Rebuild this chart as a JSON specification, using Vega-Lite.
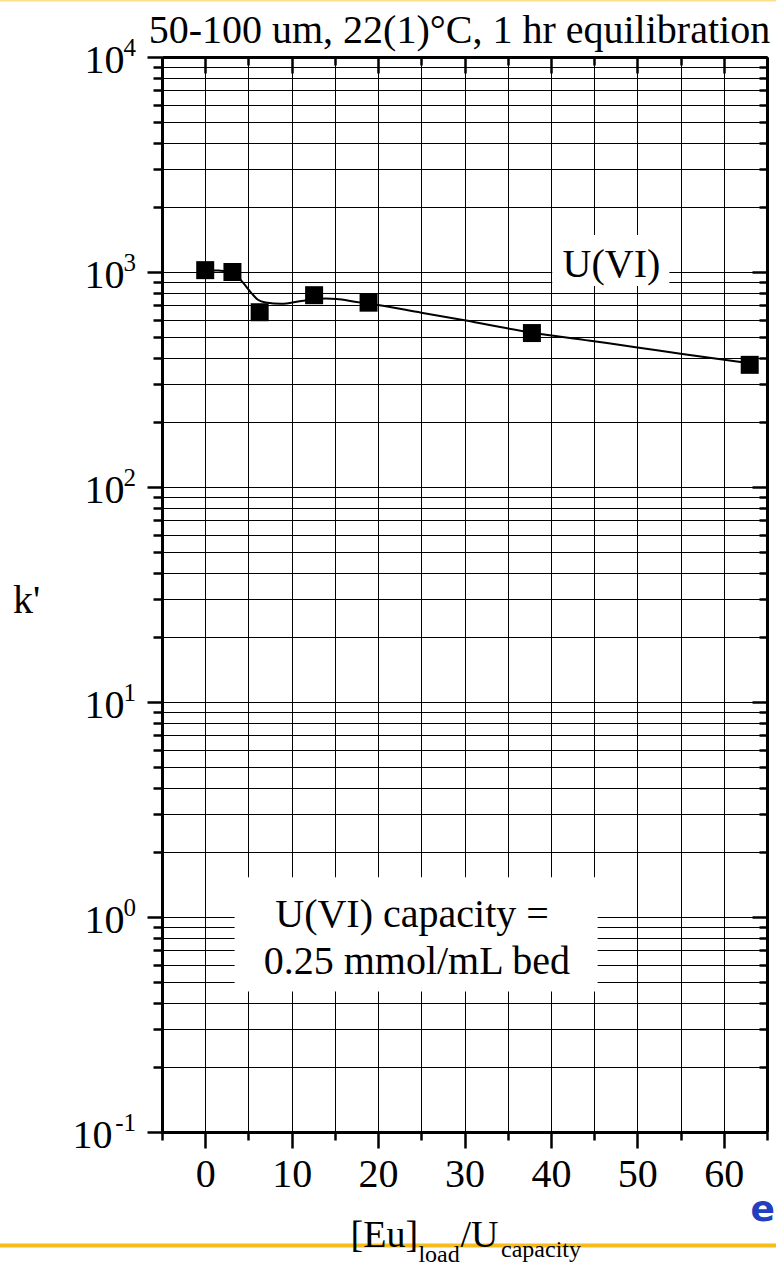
{
  "$schema": "https://vega.github.io/schema/vega-lite/v6.json",
  "width": 605,
  "height": 1075,
  "autosize": {"type": "none"},
  "padding": {"left": 162, "top": 57, "right": 9, "bottom": 137},
  "background": "white",
  "config": {"view": {"stroke": null}, "font": "Liberation Serif"},
  "datasets": {
    "points": [
      {"x": 0, "k": 1020},
      {"x": 3.15, "k": 1000},
      {"x": 6.3, "k": 650},
      {"x": 12.6, "k": 780},
      {"x": 18.9, "k": 720},
      {"x": 37.8, "k": 520},
      {"x": 63, "k": 370}
    ],
    "curve": [
      {"x": 0, "k": 1020},
      {"x": 1.5, "k": 1015},
      {"x": 3.15, "k": 1000},
      {"x": 4.3, "k": 899},
      {"x": 5.4, "k": 793},
      {"x": 6.1, "k": 743},
      {"x": 7.0, "k": 722},
      {"x": 8.8, "k": 712},
      {"x": 11.1, "k": 733},
      {"x": 13.9, "k": 752},
      {"x": 15.2, "k": 749},
      {"x": 17.5, "k": 725},
      {"x": 19, "k": 712},
      {"x": 25, "k": 647},
      {"x": 30, "k": 596},
      {"x": 37.9, "k": 522},
      {"x": 45, "k": 476},
      {"x": 50, "k": 446},
      {"x": 55, "k": 417},
      {"x": 63.2, "k": 375}
    ],
    "exponents": [
      {"v": 10000, "s": "4"},
      {"v": 1000, "s": "3"},
      {"v": 100, "s": "2"},
      {"v": 10, "s": "1"},
      {"v": 1, "s": "0"},
      {"v": 0.1, "s": "-1"}
    ],
    "one": [{}]
  },
  "resolve": {"axis": {"x": "independent", "y": "independent"}},
  "layer": [
    {
      "data": {"name": "one"},
      "mark": {"type": "rect", "color": "white"},
      "encoding": {
        "x": {"datum": 40.15, "type": "quantitative", "axis": null},
        "x2": {"datum": 53.7},
        "y": {"datum": 860, "type": "quantitative", "axis": null},
        "y2": {"datum": 1486}
      }
    },
    {
      "data": {"name": "one"},
      "mark": {"type": "rect", "color": "white"},
      "encoding": {
        "x": {"datum": 3.4, "type": "quantitative", "axis": null},
        "x2": {"datum": 45.4},
        "y": {"datum": 0.45, "type": "quantitative", "axis": null},
        "y2": {"datum": 1.53}
      }
    },
    {
      "data": {"name": "curve"},
      "mark": {"type": "line", "color": "black", "strokeWidth": 2, "interpolate": "monotone"},
      "encoding": {
        "x": {
          "field": "x", "type": "quantitative",
          "scale": {"domain": [-5, 65], "nice": false, "zero": false},
          "axis": {
            "orient": "top", "title": null, "labels": false, "grid": false,
            "values": [-5, 0, 5, 10, 15, 20, 25, 30, 35, 40, 45, 50, 55, 60, 65],
            "domain": true, "domainColor": "black", "domainWidth": 3,
            "tickColor": "black", "tickWidth": 2.5,
            "tickSize": {"condition": {"test": "datum.value % 10 === 0", "value": -16}, "value": -8}
          }
        },
        "y": {
          "field": "k", "type": "quantitative",
          "scale": {"type": "log", "domain": [0.1, 10000], "nice": false},
          "axis": {
            "orient": "right", "title": null, "labels": false, "grid": false,
            "values": [0.1,0.2,0.3,0.4,0.5,0.6,0.7,0.8,0.9,1,2,3,4,5,6,7,8,9,10,20,30,40,50,60,70,80,90,100,200,300,400,500,600,700,800,900,1000,2000,3000,4000,5000,6000,7000,8000,9000,10000],
            "domain": true, "domainColor": "black", "domainWidth": 3,
            "tickColor": "black", "tickWidth": 2.5,
            "tickSize": {"condition": {"test": "abs(log(datum.value)/LN10 - round(log(datum.value)/LN10)) < 1e-6", "value": -15}, "value": -8}
          }
        }
      }
    },
    {
      "data": {"name": "points"},
      "mark": {"type": "point", "shape": "square", "filled": true, "size": 324, "color": "black", "opacity": 1},
      "encoding": {
        "x": {
          "field": "x", "type": "quantitative",
          "scale": {"domain": [-5, 65], "nice": false, "zero": false},
          "axis": {
            "orient": "bottom", "title": null,
            "values": [-5, 0, 5, 10, 15, 20, 25, 30, 35, 40, 45, 50, 55, 60, 65],
            "labelExpr": "datum.value % 10 === 0 && datum.value <= 60 ? datum.label : ''",
            "format": "d",
            "labelFont": "Liberation Serif", "labelFontSize": 40, "labelColor": "black",
            "labelPadding": 6, "labelOverlap": false, "labelFlush": false, "labelBound": false,
            "grid": true, "gridColor": "black", "gridWidth": 1, "gridOpacity": 1,
            "domain": true, "domainColor": "black", "domainWidth": 3,
            "tickColor": "black", "tickWidth": 2.5,
            "tickSize": {"condition": {"test": "datum.value % 10 === 0", "value": 16}, "value": 8}
          }
        },
        "y": {
          "field": "k", "type": "quantitative",
          "scale": {"type": "log", "domain": [0.1, 10000], "nice": false},
          "axis": {
            "orient": "left",
            "title": "k'",
            "titleFont": "Liberation Serif", "titleFontSize": 40, "titleFontWeight": "normal", "titleColor": "black",
            "titleAngle": 0, "titleAlign": "center", "titleBaseline": "alphabetic",
            "titleX": -136, "titleY": 555,
            "values": [0.1,0.2,0.3,0.4,0.5,0.6,0.7,0.8,0.9,1,2,3,4,5,6,7,8,9,10,20,30,40,50,60,70,80,90,100,200,300,400,500,600,700,800,900,1000,2000,3000,4000,5000,6000,7000,8000,9000,10000],
            "labelExpr": "abs(log(datum.value)/LN10 - round(log(datum.value)/LN10)) < 1e-6 ? '10' : ''",
            "labelFont": "Liberation Serif", "labelFontSize": 40, "labelColor": "black",
            "labelBaseline": "alphabetic", "labelOffset": 15,
            "labelPadding": {"condition": {"test": "datum.value < 0.5", "value": 35}, "value": 23},
            "labelOverlap": false, "labelFlush": false, "labelBound": false,
            "grid": true, "gridColor": "black", "gridWidth": 1, "gridOpacity": 1,
            "domain": true, "domainColor": "black", "domainWidth": 3,
            "tickColor": "black", "tickWidth": 2.5,
            "tickSize": {"condition": {"test": "abs(log(datum.value)/LN10 - round(log(datum.value)/LN10)) < 1e-6", "value": 15}, "value": 9}
          }
        }
      }
    },
    {
      "data": {"name": "exponents"},
      "mark": {"type": "text", "font": "Liberation Serif", "fontSize": 25, "color": "black", "align": "right", "baseline": "alphabetic", "dx": -26, "dy": -1},
      "encoding": {
        "x": {"datum": -5, "type": "quantitative", "axis": null},
        "y": {"field": "v", "type": "quantitative", "axis": null},
        "text": {"field": "s"}
      }
    },
    {
      "data": {"name": "one"},
      "mark": {"type": "text", "text": "50-100 um, 22(1)\u00b0C, 1 hr equilibration", "font": "Liberation Serif", "fontSize": 40, "color": "black", "align": "center", "baseline": "alphabetic"},
      "encoding": {
        "x": {"datum": 29.41, "type": "quantitative", "axis": null},
        "y": {"datum": 11580, "type": "quantitative", "axis": null}
      }
    },
    {
      "data": {"name": "one"},
      "mark": {"type": "text", "text": "U(VI)", "font": "Liberation Serif", "fontSize": 40, "color": "black", "align": "center", "baseline": "alphabetic"},
      "encoding": {
        "x": {"datum": 47.0, "type": "quantitative", "axis": null},
        "y": {"datum": 951, "type": "quantitative", "axis": null}
      }
    },
    {
      "data": {"name": "one"},
      "mark": {"type": "text", "text": "U(VI) capacity =", "font": "Liberation Serif", "fontSize": 40, "color": "black", "align": "center", "baseline": "alphabetic"},
      "encoding": {
        "x": {"datum": 23.93, "type": "quantitative", "axis": null},
        "y": {"datum": 0.898, "type": "quantitative", "axis": null}
      }
    },
    {
      "data": {"name": "one"},
      "mark": {"type": "text", "text": "0.25 mmol/mL bed", "font": "Liberation Serif", "fontSize": 40, "color": "black", "align": "center", "baseline": "alphabetic"},
      "encoding": {
        "x": {"datum": 24.48, "type": "quantitative", "axis": null},
        "y": {"datum": 0.543, "type": "quantitative", "axis": null}
      }
    },
    {
      "data": {"name": "one"},
      "mark": {"type": "rule", "color": "#F6BC1C", "strokeWidth": 4},
      "encoding": {
        "x": {"datum": -24, "type": "quantitative", "axis": null},
        "x2": {"datum": 67},
        "y": {"datum": 0.02965, "type": "quantitative", "axis": null}
      }
    },
    {
      "data": {"name": "one"},
      "mark": {"type": "rule", "color": "#FBDF8C", "strokeWidth": 2},
      "encoding": {
        "x": {"datum": -24, "type": "quantitative", "axis": null},
        "x2": {"datum": 67},
        "y": {"datum": 18323, "type": "quantitative", "axis": null}
      }
    },
    {
      "data": {"name": "one"},
      "mark": {"type": "text", "text": "[Eu]", "font": "Liberation Serif", "fontSize": 38, "color": "black", "align": "left", "baseline": "alphabetic"},
      "encoding": {
        "x": {"datum": 16.82, "type": "quantitative", "axis": null},
        "y": {"datum": 0.02917, "type": "quantitative", "axis": null}
      }
    },
    {
      "data": {"name": "one"},
      "mark": {"type": "text", "text": "load", "font": "Liberation Serif", "fontSize": 24, "color": "black", "align": "left", "baseline": "alphabetic"},
      "encoding": {
        "x": {"datum": 24.67, "type": "quantitative", "axis": null},
        "y": {"datum": 0.02494, "type": "quantitative", "axis": null}
      }
    },
    {
      "data": {"name": "one"},
      "mark": {"type": "text", "text": "/U", "font": "Liberation Serif", "fontSize": 38, "color": "black", "align": "left", "baseline": "alphabetic"},
      "encoding": {
        "x": {"datum": 29.53, "type": "quantitative", "axis": null},
        "y": {"datum": 0.02917, "type": "quantitative", "axis": null}
      }
    },
    {
      "data": {"name": "one"},
      "mark": {"type": "text", "text": "capacity", "font": "Liberation Serif", "fontSize": 24, "color": "black", "align": "left", "baseline": "alphabetic"},
      "encoding": {
        "x": {"datum": 34.23, "type": "quantitative", "axis": null},
        "y": {"datum": 0.02624, "type": "quantitative", "axis": null}
      }
    },
    {
      "data": {"name": "one"},
      "mark": {"type": "text", "text": "e", "font": "DejaVu Sans", "fontSize": 36, "fontWeight": "bold", "color": "#2040C0", "align": "center", "baseline": "alphabetic"},
      "encoding": {
        "x": {"datum": 64.5, "type": "quantitative", "axis": null},
        "y": {"datum": 0.0386, "type": "quantitative", "axis": null}
      }
    }
  ]
}
